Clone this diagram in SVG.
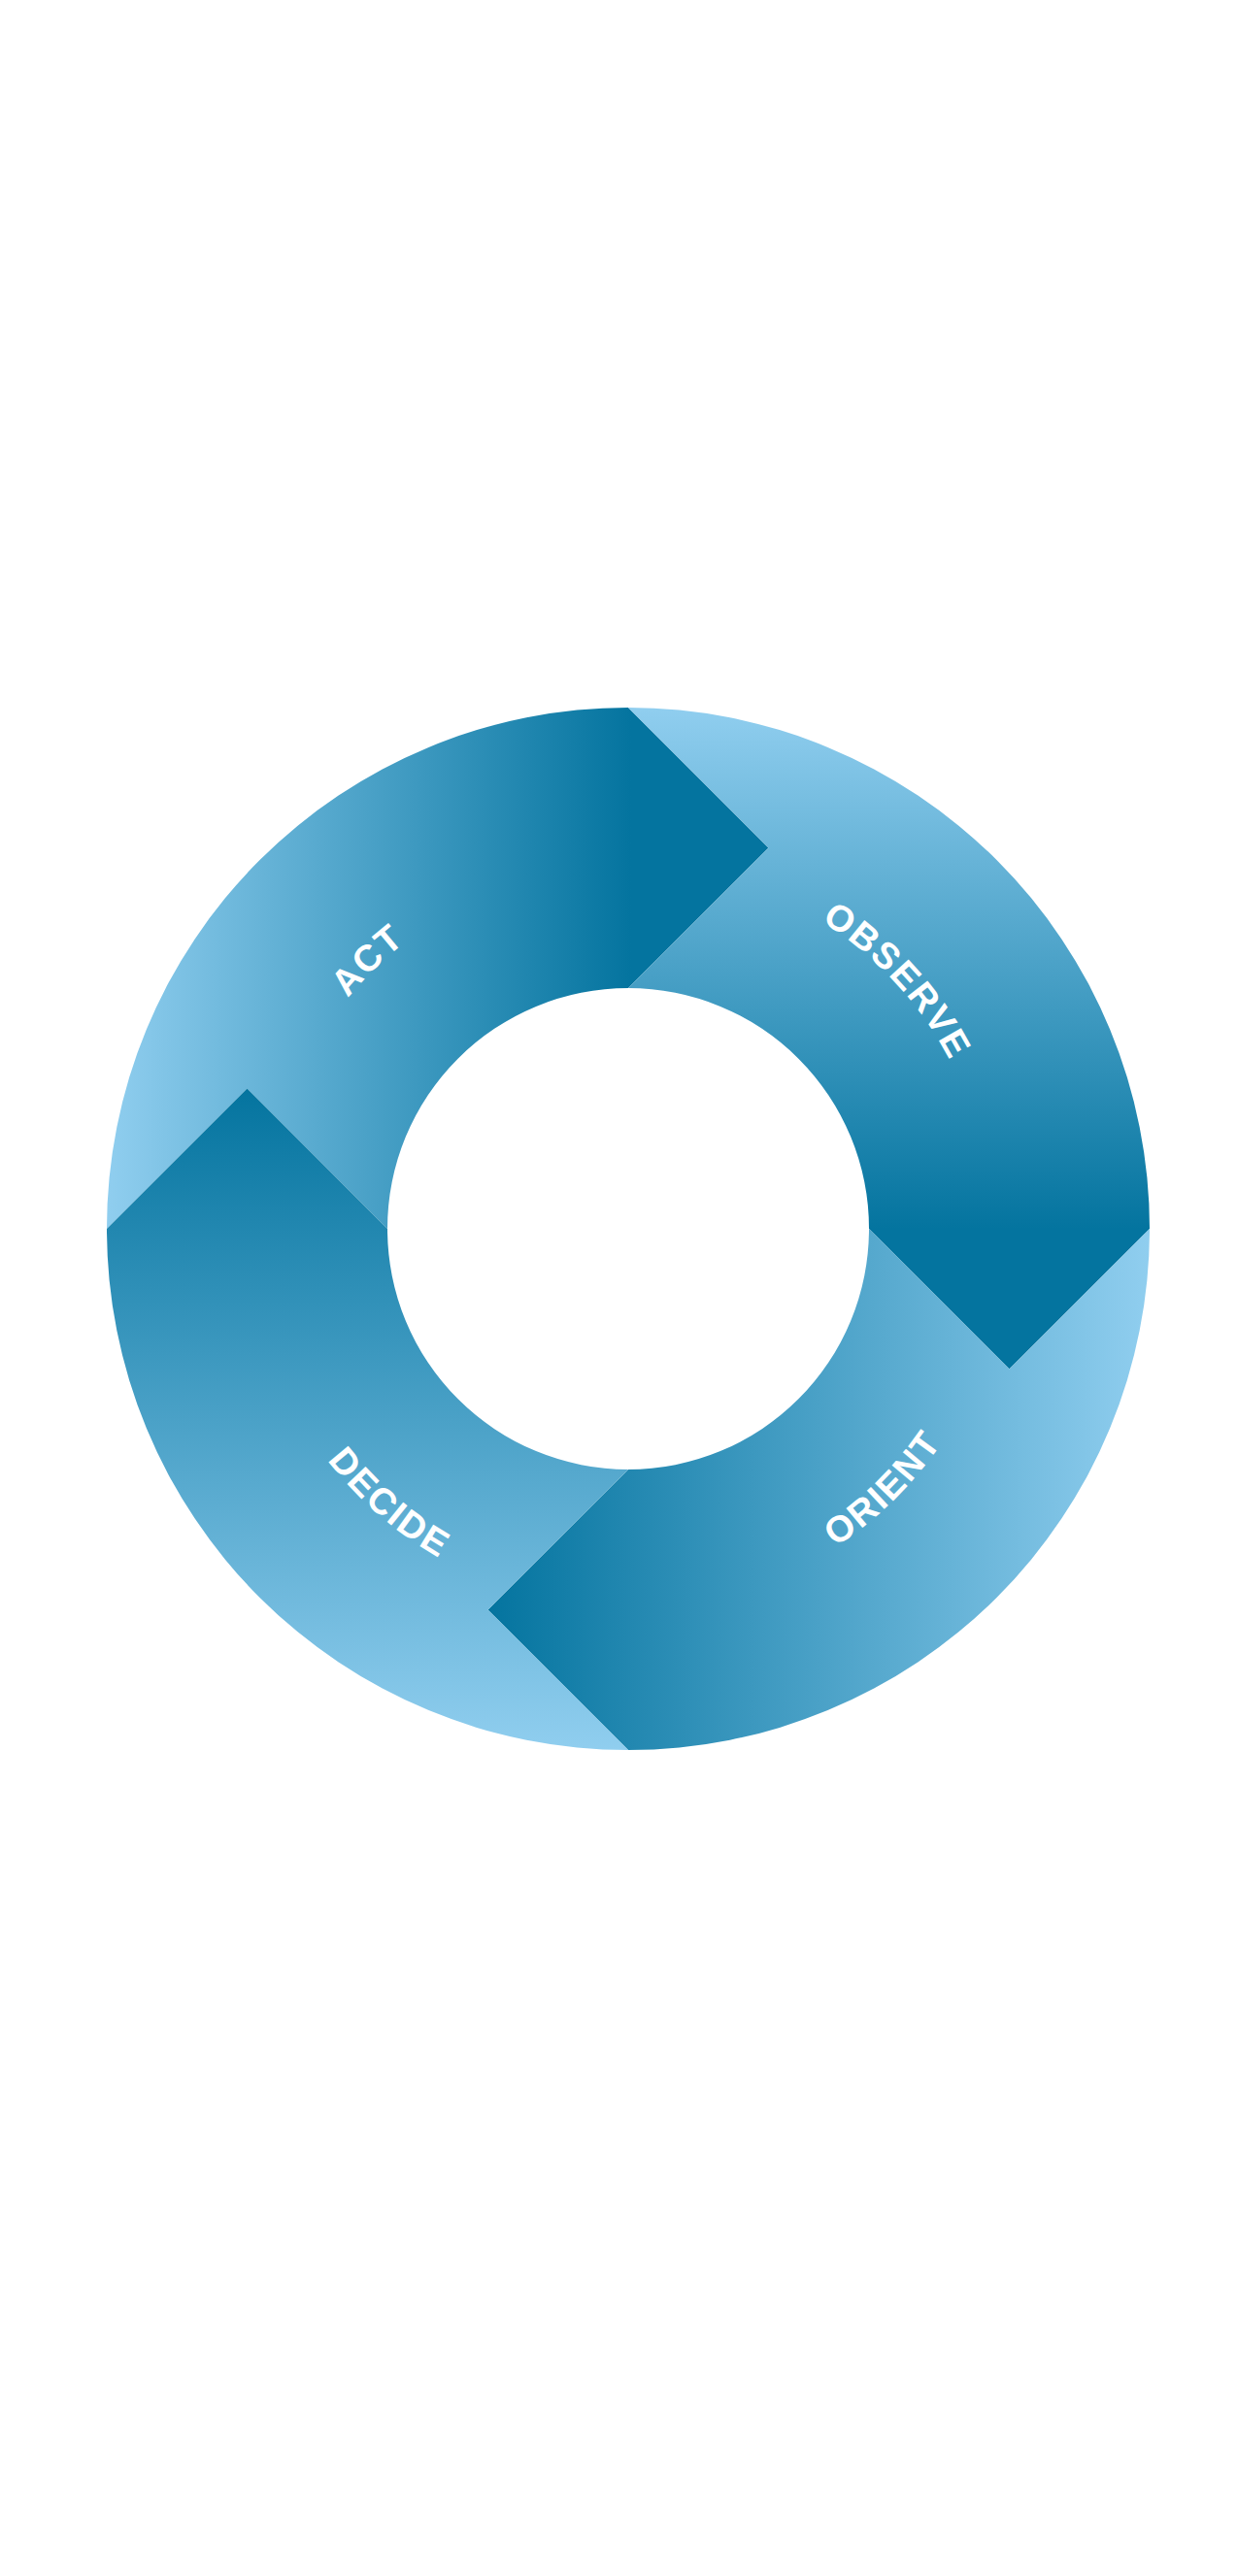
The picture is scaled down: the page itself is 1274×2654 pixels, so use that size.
<svg xmlns="http://www.w3.org/2000/svg" xmlns:xlink="http://www.w3.org/1999/xlink" width="1274" height="2654" viewBox="0 0 1274 2654">
  <style>
    .label { font-family: "Liberation Sans", Arial, sans-serif; font-weight: bold; font-size: 38px; fill: #ffffff; letter-spacing: 2px; text-anchor: middle; }
  </style>
  <defs>
    <linearGradient id="gAct" gradientUnits="userSpaceOnUse" x1="110" y1="0" x2="650" y2="0">
      <stop offset="0" stop-color="#90CEEF"/>
      <stop offset="1" stop-color="#04749F"/>
    </linearGradient>
    <linearGradient id="gObs" gradientUnits="userSpaceOnUse" x1="0" y1="729" x2="0" y2="1266">
      <stop offset="0" stop-color="#90CEEF"/>
      <stop offset="1" stop-color="#04749F"/>
    </linearGradient>
    <linearGradient id="gOri" gradientUnits="userSpaceOnUse" x1="502" y1="0" x2="1184" y2="0">
      <stop offset="0" stop-color="#04749F"/>
      <stop offset="1" stop-color="#90CEEF"/>
    </linearGradient>
    <linearGradient id="gDec" gradientUnits="userSpaceOnUse" x1="0" y1="1121" x2="0" y2="1803">
      <stop offset="0" stop-color="#04749F"/>
      <stop offset="1" stop-color="#90CEEF"/>
    </linearGradient>
    <path id="arcTop" d="M 273 1266 A 374 374 0 0 1 1021 1266"/>
    <path id="arcBottom" d="M 256 1266 A 391 391 0 0 0 1038 1266"/>
  </defs>
  <rect x="0" y="0" width="1274" height="2654" fill="#ffffff"/>

  <g id="act">
    <path d="M 110 1266 A 537 537 0 0 1 647 729 L 791.5 873.5 L 647 1018 A 248 248 0 0 0 399 1266 L 254.5 1121.5 Z" fill="url(#gAct)"/>
    <text class="label"><textPath xlink:href="#arcTop" href="#arcTop" startOffset="25.5%">ACT</textPath></text>
  </g>

  <g id="observe">
    <path d="M 647 729 A 537 537 0 0 1 1184 1266 L 1039.5 1410.5 L 895 1266 A 248 248 0 0 0 647 1018 L 791.5 873.5 Z" fill="url(#gObs)"/>
    <text class="label"><textPath xlink:href="#arcTop" href="#arcTop" startOffset="76.3%">OBSERVE</textPath></text>
  </g>

  <g id="orient">
    <path d="M 1184 1266 A 537 537 0 0 1 647 1803 L 502.5 1658.5 L 647 1514 A 248 248 0 0 0 895 1266 L 1039.5 1410.5 Z" fill="url(#gOri)"/>
    <text class="label"><textPath xlink:href="#arcBottom" href="#arcBottom" startOffset="74.7%">ORIENT</textPath></text>
  </g>

  <g id="decide">
    <path d="M 647 1803 A 537 537 0 0 1 110 1266 L 254.5 1121.5 L 399 1266 A 248 248 0 0 0 647 1514 L 502.5 1658.5 Z" fill="url(#gDec)"/>
    <text class="label"><textPath xlink:href="#arcBottom" href="#arcBottom" startOffset="27.2%">DECIDE</textPath></text>
  </g>

  <g id="connectors"/>
</svg>
